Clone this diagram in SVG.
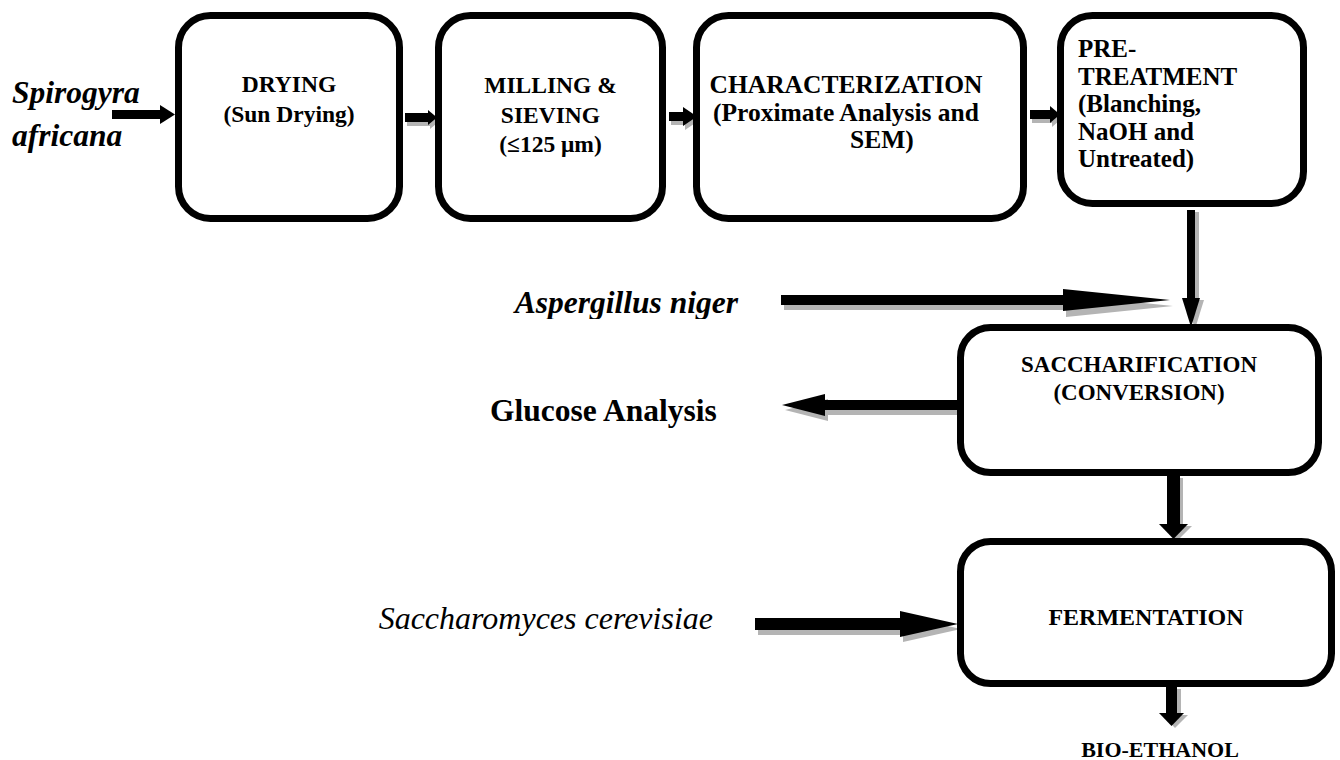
<svg xmlns="http://www.w3.org/2000/svg" width="1340" height="760" viewBox="0 0 1340 760">
<style>
.box{fill:#fff;stroke:#000;stroke-width:7}
.t{font-family:"Liberation Serif","DejaVu Serif","Times New Roman",Times,serif;font-weight:bold;fill:#000}
.it{font-family:"Liberation Serif","DejaVu Serif","Times New Roman",Times,serif;font-style:italic;font-weight:bold;fill:#000}
.itn{font-family:"Liberation Serif","DejaVu Serif","Times New Roman",Times,serif;font-style:italic;font-weight:normal;fill:#000}
.ar{fill:#000}
.sh{fill:#b4b4b4}
</style>
<defs>
<clipPath id="clipAsp"><rect x="0" y="0" width="1340" height="319"/></clipPath>
</defs>
<rect width="1340" height="760" fill="#fff"/>

<g id="connectors">
  <g id="c0"><rect class="ar" x="112" y="110" width="50" height="9"/><polygon class="ar" points="160,105 175,114.5 160,124"/></g>
  <g id="c1"><rect class="sh" x="407" y="117" width="25" height="9"/><polygon class="sh" points="430,114 439,121.5 430,129"/>
    <rect class="ar" x="405" y="113" width="25" height="9"/><polygon class="ar" points="428,110 437,117.5 428,125"/></g>
  <g id="c2"><rect class="sh" x="671" y="116" width="16" height="9"/><polygon class="sh" points="685,111 699,120.5 685,130"/>
    <rect class="ar" x="669" y="112" width="16" height="9"/><polygon class="ar" points="683,107 697,116.5 683,126"/></g>
  <g id="c3"><rect class="sh" x="1032" y="114" width="20" height="9"/><polygon class="sh" points="1052,110 1062,118.5 1052,127"/>
    <rect class="ar" x="1030" y="110" width="22" height="9"/><polygon class="ar" points="1050,106 1060,114.5 1050,123"/></g>
  <g id="c4"><rect class="sh" x="1191" y="212" width="8" height="88"/><polygon class="sh" points="1186,300 1204,300 1195,329"/>
    <rect class="ar" x="1187" y="210" width="8" height="90"/><polygon class="ar" points="1182,298 1200,298 1191,327"/></g>
  <g id="c5"><rect class="sh" x="784" y="300" width="283" height="10"/><polygon class="sh" points="1066,295 1173,306 1066,317"/>
    <rect class="ar" x="781" y="295" width="284" height="10"/><polygon class="ar" points="1063,289 1170,300 1063,311"/></g>
  <g id="c6"><rect class="sh" x="826" y="405" width="134" height="10"/><polygon class="sh" points="828,399 785,410 828,421"/>
    <rect class="ar" x="823" y="400" width="137" height="10"/><polygon class="ar" points="825,394 782,405 825,416"/></g>
  <g id="c7"><rect class="sh" x="758" y="623" width="146" height="12"/><polygon class="sh" points="903,616 961,629 903,642"/>
    <rect class="ar" x="755" y="618" width="147" height="12"/><polygon class="ar" points="900,611 958,624 900,637"/></g>
  <g id="c8"><rect class="sh" x="1170" y="478" width="13" height="48"/><polygon class="sh" points="1163,526 1192,526 1177,541"/>
    <rect class="ar" x="1167" y="476" width="13" height="49"/><polygon class="ar" points="1159,524 1188,524 1173.5,539"/></g>
  <g id="c9"><rect class="sh" x="1170" y="689" width="11" height="26"/><polygon class="sh" points="1163,715 1188,715 1175,728"/>
    <rect class="ar" x="1166" y="687" width="11" height="27"/><polygon class="ar" points="1159,713 1184,713 1171.5,726"/></g>
</g>

<g id="n-spirogyra">
  <text class="it" x="12" y="103" font-size="31.5">Spirogyra</text>
  <text class="it" x="12" y="146" font-size="31.5">africana</text>
</g>

<g id="n-drying">
  <rect class="box" x="178.5" y="15.5" width="221" height="203" rx="32"/>
  <text class="t" x="289" y="92" font-size="23.5" text-anchor="middle">DRYING</text>
  <text class="t" x="289" y="122" font-size="23.5" text-anchor="middle">(Sun Drying)</text>
</g>

<g id="n-milling">
  <rect class="box" x="438.5" y="15.5" width="224" height="203" rx="32"/>
  <text class="t" x="550.5" y="93" font-size="23.5" text-anchor="middle">MILLING &amp;</text>
  <text class="t" x="550.5" y="123" font-size="23.5" text-anchor="middle">SIEVING</text>
  <text class="t" x="550.5" y="152" font-size="23.5" text-anchor="middle">(≤125 μm)</text>
</g>

<g id="n-characterization">
  <rect class="box" x="696.5" y="15.5" width="327" height="203" rx="32"/>
  <text class="t" x="846" y="93" font-size="25.5" text-anchor="middle">CHARACTERIZATION</text>
  <text class="t" x="846" y="121" font-size="25.5" text-anchor="middle">(Proximate Analysis and</text>
  <text class="t" x="850" y="148" font-size="25.5">SEM)</text>
</g>

<g id="n-pretreatment">
  <rect class="box" x="1060.5" y="15.5" width="243" height="188" rx="32"/>
  <text class="t" x="1078" y="57" font-size="25">PRE-</text>
  <text class="t" x="1078" y="85" font-size="25">TREATMENT</text>
  <text class="t" x="1078" y="112" font-size="25">(Blanching,</text>
  <text class="t" x="1078" y="140" font-size="25">NaOH and</text>
  <text class="t" x="1078" y="167" font-size="25">Untreated)</text>
</g>

<g id="n-aspergillus" clip-path="url(#clipAsp)">
  <text class="it" x="738" y="313" font-size="31.5" text-anchor="end">Aspergillus niger</text>
</g>

<g id="n-saccharification">
  <rect class="box" x="960.5" y="327.5" width="358" height="145" rx="30"/>
  <text class="t" x="1139" y="372" font-size="23" text-anchor="middle">SACCHARIFICATION</text>
  <text class="t" x="1139" y="400" font-size="23" text-anchor="middle">(CONVERSION)</text>
</g>

<g id="n-glucose">
  <text class="t" x="490" y="421" font-size="31.5">Glucose Analysis</text>
</g>

<g id="n-saccharomyces">
  <text class="itn" x="713" y="629" font-size="32" text-anchor="end">Saccharomyces cerevisiae</text>
</g>

<g id="n-fermentation">
  <rect class="box" x="960.5" y="541.5" width="371" height="142" rx="30"/>
  <text class="t" x="1146" y="625" font-size="24" text-anchor="middle">FERMENTATION</text>
</g>

<g id="n-bioethanol">
  <text class="t" x="1160" y="757" font-size="22" text-anchor="middle">BIO-ETHANOL</text>
</g>
</svg>
